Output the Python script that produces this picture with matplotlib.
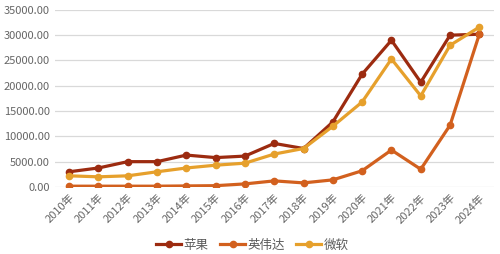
import numpy as np
import matplotlib.pyplot as plt

plt.rcParams['font.family'] = ['Noto Sans CJK SC', 'DejaVu Sans']

# 数据
years = [f"{y}年" for y in range(2010, 2025)]
apple = [3000, 3750, 5000, 5000, 6300, 5800, 6100, 8600, 7600,
         12850, 22300, 29000, 20700, 30000, 30200]
nvidia = [150, 150, 150, 150, 200, 250, 600, 1200, 800,
          1400, 3200, 7300, 3500, 12200, 30200]
msft = [2200, 2000, 2200, 3000, 3750, 4300, 4700, 6500, 7600,
        12000, 16800, 25300, 18000, 28000, 31600]

c_apple = '#9c2b10'
c_nvidia = '#d2601e'
c_msft = '#e6a02c'

fig = plt.figure(figsize=(5, 2.54), dpi=100)
ax = fig.add_axes([0.109, 0.264, 0.879, 0.697])

x = np.arange(len(years))
ax.plot(x, apple, color=c_apple, lw=2.3, marker='o', ms=4.5, label='苹果', zorder=3)
ax.plot(x, nvidia, color=c_nvidia, lw=2.3, marker='o', ms=4.5, label='英伟达', zorder=3)
ax.plot(x, msft, color=c_msft, lw=2.3, marker='o', ms=4.5, label='微软', zorder=3)

ax.set_xlim(-0.5, len(years) - 0.5)
ax.set_ylim(0, 35000)
ax.set_yticks(np.arange(0, 35001, 5000))
ax.set_yticklabels([f"{v:.2f}" for v in np.arange(0, 35001, 5000)])
ax.set_xticks(x)
ax.set_xticklabels(years, rotation=45, ha='right', rotation_mode='anchor')
ax.tick_params(axis='both', length=0, labelsize=8, colors='#666666')
ax.tick_params(axis='x', pad=4)
ax.grid(axis='y', color='#d9d9d9', lw=0.9)
ax.set_axisbelow(True)
for s in ax.spines.values():
    s.set_visible(False)

fig.legend(loc='lower center', bbox_to_anchor=(0.505, -0.035), ncol=3, frameon=False,
           fontsize=9, handlelength=2.0, columnspacing=0.9, handletextpad=0.2,
           labelcolor='#595959')

fig.savefig('out.png', dpi=100)
